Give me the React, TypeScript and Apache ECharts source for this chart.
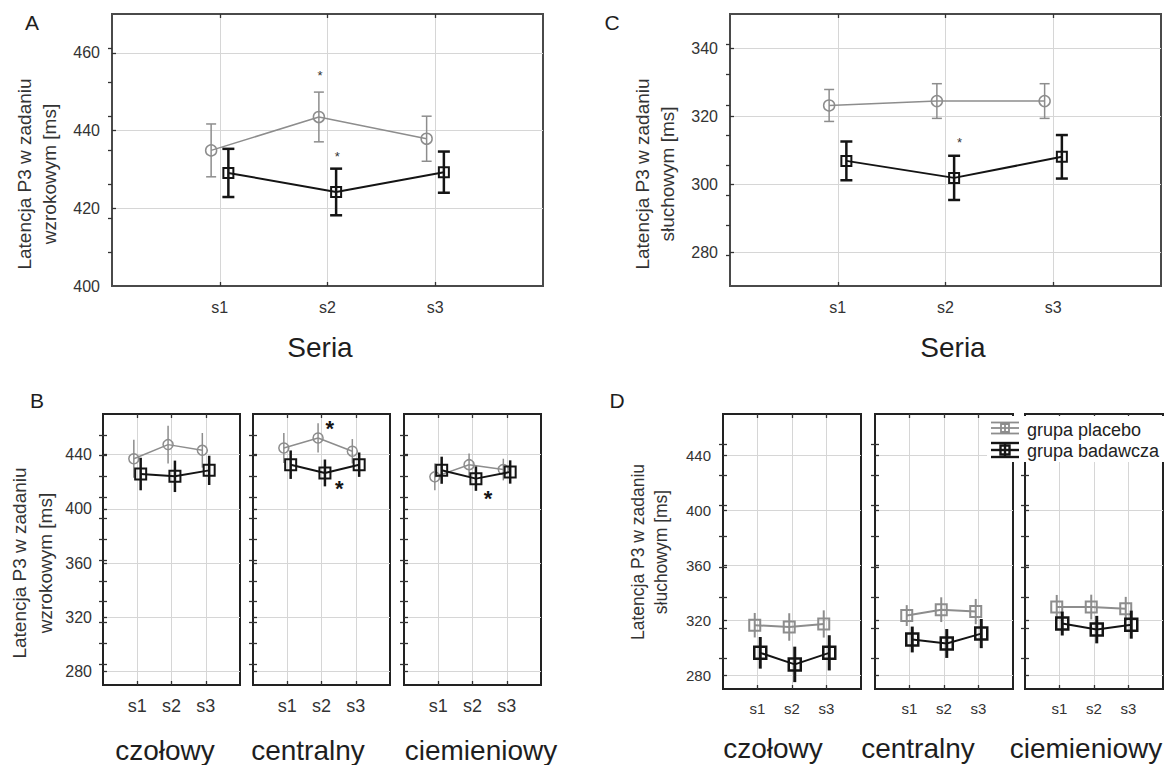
import React, { useEffect, useRef } from 'react';
import * as echarts from 'echarts';

// ---------- data ----------
const seriesLabels = ['s1', 's2', 's3'];
const groupNames = ['grupa placebo', 'grupa badawcza'];
const regionNames = ['czołowy', 'centralny', 'ciemieniowy'];

// Panel A (visual task, by series)
const aPlaceboMean = [434.9, 443.5, 437.9];
const aPlaceboErr = [6.8, 6.4, 5.8];
const aBadawczaMean = [429.1, 424.2, 429.3];
const aBadawczaErr = [6.2, 6.0, 5.3];
const aStars = [[1.93, 455.2], [2.09, 434.2]];
const aYLabels = [400, 420, 440, 460];
const aYGrid = [420, 440, 460];
const aMinorTicks = [408.75, 417.5, 426.25, 435, 443.75, 452.5, 461.25];

// Panel C (auditory task, by series)
const cPlaceboMean = [323.1, 324.4, 324.4];
const cPlaceboErr = [4.7, 5.1, 5.1];
const cBadawczaMean = [306.8, 301.8, 308.0];
const cBadawczaErr = [5.7, 6.5, 6.4];
const cStars = [[2.13, 313.1]];
const cYLabels = [280, 300, 320, 340];
const cMinorTicks = [278.9, 287.8, 296.7, 305.6, 314.4, 323.3, 332.2, 341.1];

// Panel B (visual task, by region)
const bPlaceboMean = [[437.0, 447.4, 443.2], [444.9, 452.3, 442.5], [423.6, 432.6, 429.0]];
const bPlaceboErr = [[14.0, 14.0, 12.8], [11.0, 10.8, 9.0], [9.8, 8.3, 8.0]];
const bBadawczaMean = [[425.7, 424.0, 428.4], [432.6, 426.5, 432.6], [428.5, 422.3, 427.2]];
const bBadawczaErr = [[12.0, 11.6, 10.8], [10.5, 9.9, 9.0], [10.0, 9.0, 8.6]];
const bStars = [[], [[2.24, 463.4], [2.52, 419.1]], [[2.45, 411.8]]];
const bMinorTicks = [285.4, 300.8, 316.2, 331.5, 346.9, 362.3, 377.7, 393.1, 408.5, 423.8, 439.2, 454.6];

// Panel D (auditory task, by region)
const dPlaceboMean = [[316.4, 315.1, 317.3], [323.4, 327.7, 326.3], [329.6, 329.6, 328.4]];
const dPlaceboErr = [[8.9, 10.0, 9.9], [7.6, 9.0, 9.2], [8.8, 9.0, 8.6]];
const dBadawczaMean = [[296.3, 287.9, 296.3], [306.0, 303.1, 310.3], [317.6, 313.2, 316.8]];
const dBadawczaErr = [[11.5, 12.9, 12.8], [9.4, 10.5, 10.6], [8.7, 10.0, 10.2]];
const dMinorTicks = [292.2, 314.4, 336.7, 358.9, 381.1, 403.3, 425.6, 447.8];

const bdYLabels = [280, 320, 360, 400, 440];

// ---------- styling ----------
const GREY = '#8d8d8d';
const BLACK = '#141414';
const FONT = "'Liberation Sans', Arial, Helvetica, sans-serif";
const GRIDLINE = '#d6d6d6';

type Style = {
  off: [number, number];
  pSymbol: string; pSize: number; bSize: number; pBorder: number; bBorder: number;
  pLw: number; bLw: number; pEbw: number; bEbw: number; pCap: number; bCap: number;
  starSize: number; starBold: boolean; starColor: string;
  xFont: number; xMargin: number; yFont: number; yMargin: number;
  border: number; borderColor: string;
};

const styleA: Style = {
  off: [-0.08, 0.08], pSymbol: 'circle', pSize: 11, bSize: 10, pBorder: 1.5, bBorder: 2,
  pLw: 1.5, bLw: 2, pEbw: 1.5, bEbw: 2.5, pCap: 5, bCap: 6,
  starSize: 13, starBold: false, starColor: '#333',
  xFont: 16, xMargin: 13, yFont: 16, yMargin: 12, border: 2, borderColor: '#4a4a4a',
};
const styleB: Style = {
  off: [-0.1, 0.1], pSymbol: 'circle', pSize: 10, bSize: 11, pBorder: 1.5, bBorder: 2,
  pLw: 1.5, bLw: 2, pEbw: 1.5, bEbw: 2.5, pCap: 0, bCap: 0,
  starSize: 22, starBold: true, starColor: BLACK,
  xFont: 18, xMargin: 12, yFont: 16, yMargin: 11, border: 2, borderColor: '#222',
};
const styleD: Style = {
  off: [-0.08, 0.08], pSymbol: 'rect', pSize: 11, bSize: 12, pBorder: 2, bBorder: 2.5,
  pLw: 2, bLw: 2, pEbw: 2, bEbw: 3, pCap: 0, bCap: 0,
  starSize: 22, starBold: true, starColor: BLACK,
  xFont: 15, xMargin: 12, yFont: 15, yMargin: 12, border: 2, borderColor: '#222',
};

type Rect = { left: number; top: number; width: number; height: number };
type Panel = {
  rect: Rect; yMin: number; yMax: number; yLabels: number[]; yGrid: number[]; yMinor: number[];
  minorLeft: boolean; showYLabels: boolean;
  pMean: number[]; pErr: number[]; bMean: number[]; bErr: number[]; stars: number[][];
  st: Style;
};

const panels: Panel[] = [];
panels.push({
  rect: { left: 112, top: 14, width: 431, height: 272 }, yMin: 400, yMax: 470,
  yLabels: aYLabels, yGrid: aYGrid, yMinor: aMinorTicks, minorLeft: false, showYLabels: true,
  pMean: aPlaceboMean, pErr: aPlaceboErr, bMean: aBadawczaMean, bErr: aBadawczaErr, stars: aStars, st: styleA,
});
panels.push({
  rect: { left: 730, top: 14, width: 431, height: 272 }, yMin: 270, yMax: 350,
  yLabels: cYLabels, yGrid: cYLabels, yMinor: cMinorTicks, minorLeft: false, showYLabels: true,
  pMean: cPlaceboMean, pErr: cPlaceboErr, bMean: cBadawczaMean, bErr: cBadawczaErr, stars: cStars, st: styleA,
});
const bLefts = [103, 253, 404];
const dLefts = [723, 875, 1025];
for (let r = 0; r < 3; r++) {
  panels.push({
    rect: { left: bLefts[r], top: 414, width: 137, height: 271 }, yMin: 270, yMax: 470,
    yLabels: bdYLabels, yGrid: bdYLabels, yMinor: bMinorTicks, minorLeft: true, showYLabels: r === 0,
    pMean: bPlaceboMean[r], pErr: bPlaceboErr[r], bMean: bBadawczaMean[r], bErr: bBadawczaErr[r], stars: bStars[r], st: styleB,
  });
}
for (let r = 0; r < 3; r++) {
  panels.push({
    rect: { left: dLefts[r], top: 414, width: 138, height: 275 }, yMin: 270, yMax: 470,
    yLabels: bdYLabels, yGrid: bdYLabels, yMinor: dMinorTicks, minorLeft: true, showYLabels: r === 0,
    pMean: dPlaceboMean[r], pErr: dPlaceboErr[r], bMean: dBadawczaMean[r], bErr: dBadawczaErr[r], stars: [], st: styleD,
  });
}

const errRender = (color: string, lw: number, cap: number) => (_p: any, api: any) => {
  const x = api.value(0);
  const lo = api.coord([x, api.value(1)]);
  const hi = api.coord([x, api.value(2)]);
  const style = { stroke: color, lineWidth: lw };
  const children: any[] = [
    { type: 'line', shape: { x1: lo[0], y1: lo[1], x2: hi[0], y2: hi[1] }, style },
  ];
  if (cap > 0) {
    children.push({ type: 'line', shape: { x1: lo[0] - cap, y1: lo[1], x2: lo[0] + cap, y2: lo[1] }, style });
    children.push({ type: 'line', shape: { x1: hi[0] - cap, y1: hi[1], x2: hi[0] + cap, y2: hi[1] }, style });
  }
  return { type: 'group', children };
};

const starRender = (size: number, bold: boolean, color: string) => (_p: any, api: any) => {
  const p = api.coord([api.value(0), api.value(1)]);
  return {
    type: 'text', x: p[0], y: p[1] + size * 0.27,
    style: {
      text: '*', fontSize: size, fontWeight: bold ? 'bold' : 'normal', fontFamily: FONT, fill: color,
      align: 'center', verticalAlign: 'middle', textAlign: 'center', textVerticalAlign: 'middle',
    },
  };
};

function buildOption() {
  const grid: any[] = [];
  const xAxis: any[] = [];
  const yAxis: any[] = [];
  const series: any[] = [];
  const tickStyle = { color: '#333', width: 1.3 };

  panels.forEach((pn, g) => {
    const st = pn.st;
    grid.push({
      ...pn.rect, show: true, borderColor: st.borderColor, borderWidth: st.border,
      backgroundColor: '#fff', containLabel: false,
    });
    xAxis.push({
      gridIndex: g, type: 'value', min: 0, max: 4, position: 'bottom',
      axisLine: { show: false },
      axisTick: { show: true, inside: true, length: 4, customValues: [1, 2, 3], lineStyle: tickStyle },
      axisLabel: {
        show: true, customValues: [1, 2, 3], margin: st.xMargin, fontSize: st.xFont, color: '#333', fontFamily: FONT,
        formatter: (v: number) => seriesLabels[Math.round(v) - 1] ?? '',
      },
      splitLine: { show: true, lineStyle: { color: GRIDLINE, width: 1 } },
    });
    xAxis.push({
      gridIndex: g, type: 'value', min: 0, max: 4, position: 'top',
      axisLine: { show: false },
      axisTick: { show: true, inside: true, length: 4, customValues: [1, 2, 3], lineStyle: tickStyle },
      axisLabel: { show: false }, splitLine: { show: false },
    });
    yAxis.push({
      gridIndex: g, type: 'value', min: pn.yMin, max: pn.yMax, position: 'left',
      axisLine: { show: false },
      axisTick: { show: true, inside: true, length: 4, customValues: pn.yGrid, lineStyle: tickStyle },
      axisLabel: {
        show: pn.showYLabels, customValues: pn.yLabels, margin: st.yMargin, fontSize: st.yFont,
        color: '#333', fontFamily: FONT,
      },
      splitLine: { show: true, lineStyle: { color: GRIDLINE, width: 1 } },
    });
    yAxis.push({
      gridIndex: g, type: 'value', min: pn.yMin, max: pn.yMax, position: 'right',
      axisLine: { show: false },
      axisTick: { show: true, inside: true, length: 4, customValues: pn.yMinor, lineStyle: tickStyle },
      axisLabel: { show: false }, splitLine: { show: false },
    });
    yAxis.push({
      gridIndex: g, type: 'value', min: pn.yMin, max: pn.yMax, position: 'left', offset: 0,
      axisLine: { show: false },
      axisTick: { show: pn.minorLeft, inside: true, length: 4, customValues: pn.yMinor, lineStyle: tickStyle },
      axisLabel: { show: false }, splitLine: { show: false },
    });

    const xi = 2 * g;
    const yi = 3 * g;
    const pX = (i: number) => i + 1 + st.off[0];
    const bX = (i: number) => i + 1 + st.off[1];

    series.push({
      type: 'custom', xAxisIndex: xi, yAxisIndex: yi, silent: true, z: 2,
      renderItem: errRender(GREY, st.pEbw, st.pCap),
      encode: { x: 0, y: [1, 2] },
      data: pn.pMean.map((m, i) => [pX(i), m - pn.pErr[i], m + pn.pErr[i]]),
    });
    series.push({
      type: 'line', name: groupNames[0], xAxisIndex: xi, yAxisIndex: yi, silent: true, z: 3,
      symbol: st.pSymbol, symbolSize: st.pSize,
      itemStyle: { color: 'rgba(0,0,0,0)', borderColor: GREY, borderWidth: st.pBorder },
      lineStyle: { color: GREY, width: st.pLw },
      data: pn.pMean.map((m, i) => [pX(i), m]),
    });
    series.push({
      type: 'custom', xAxisIndex: xi, yAxisIndex: yi, silent: true, z: 4,
      renderItem: errRender(BLACK, st.bEbw, st.bCap),
      encode: { x: 0, y: [1, 2] },
      data: pn.bMean.map((m, i) => [bX(i), m - pn.bErr[i], m + pn.bErr[i]]),
    });
    series.push({
      type: 'line', name: groupNames[1], xAxisIndex: xi, yAxisIndex: yi, silent: true, z: 5,
      symbol: 'rect', symbolSize: st.bSize,
      itemStyle: { color: 'rgba(0,0,0,0)', borderColor: BLACK, borderWidth: st.bBorder },
      lineStyle: { color: BLACK, width: st.bLw },
      data: pn.bMean.map((m, i) => [bX(i), m]),
    });
    if (pn.stars.length) {
      series.push({
        type: 'custom', xAxisIndex: xi, yAxisIndex: yi, silent: true, z: 6,
        renderItem: starRender(st.starSize, st.starBold, st.starColor),
        encode: { x: 0, y: 1 },
        data: pn.stars,
      });
    }
  });

  const txt = (text: string, x: number, y: number, fontSize: number, extra: any = {}) => ({
    type: 'text', x, y, silent: true, z: 50, ...(extra.el || {}),
    style: {
      text, fontSize, fontFamily: FONT, fill: extra.fill || '#1e1e1e',
      align: extra.align || 'center', textAlign: extra.align || 'center',
      verticalAlign: 'middle', textVerticalAlign: 'middle',
      lineHeight: extra.lineHeight,
    },
  });
  const rot = { el: { rotation: Math.PI / 2 } };

  const graphic: any[] = [
    txt('A', 32, 22, 21),
    txt('C', 612, 22, 21),
    txt('B', 37, 400, 21),
    txt('D', 617, 400, 21),
    txt('Latencja P3 w zadaniu\nwzrokowym [ms]', 37, 174, 19, { ...rot, lineHeight: 25, fill: '#333' }),
    txt('Latencja P3 w zadaniu\nsłuchowym [ms]', 655, 174, 19, { ...rot, lineHeight: 25, fill: '#333' }),
    txt('Latencja P3 w zadaniu\nwzrokowym [ms]', 32, 563, 19, { ...rot, lineHeight: 26, fill: '#333' }),
    txt('Latencja P3 w zadaniu\nsłuchowym [ms]', 649, 552, 17.5, { ...rot, lineHeight: 23, fill: '#333' }),
    txt('Seria', 320, 347, 28),
    txt('Seria', 953, 347, 28),
  ];
  const bNameX = [165, 308, 481];
  const dNameX = [773, 918, 1086];
  regionNames.forEach((n, i) => {
    graphic.push(txt(n, bNameX[i], 750, 28));
    graphic.push(txt(n, dNameX[i], 748, 28));
  });

  // legend (panel D)
  const legend: any[] = [
    { type: 'rect', shape: { x: 987, y: 416, width: 178, height: 46 }, style: { fill: '#fff' }, z: 60, silent: true },
  ];
  const icon = (cy: number, color: string, lw: number, half: number, sq: number) => {
    const s = { stroke: color, lineWidth: lw, fill: 'none' };
    return [
      { type: 'line', shape: { x1: 991, y1: cy - half, x2: 1019, y2: cy - half }, style: s, z: 61, silent: true },
      { type: 'line', shape: { x1: 991, y1: cy + half, x2: 1019, y2: cy + half }, style: s, z: 61, silent: true },
      { type: 'line', shape: { x1: 991, y1: cy, x2: 1019, y2: cy }, style: s, z: 61, silent: true },
      { type: 'line', shape: { x1: 1005, y1: cy - half, x2: 1005, y2: cy + half }, style: s, z: 61, silent: true },
      { type: 'rect', shape: { x: 1005 - sq / 2, y: cy - sq / 2, width: sq, height: sq }, style: s, z: 61, silent: true },
    ];
  };
  legend.push(...icon(428, GREY, 1.8, 5.5, 8));
  legend.push(...icon(450, BLACK, 2.4, 7, 9));
  legend.push({ ...txt(groupNames[0], 1027, 430, 18, { align: 'left', fill: '#222' }), z: 62 });
  legend.push({ ...txt(groupNames[1], 1027, 451, 18, { align: 'left', fill: '#222' }), z: 62 });
  graphic.push(...legend);

  return {
    animation: false,
    backgroundColor: '#fff',
    textStyle: { fontFamily: FONT },
    grid, xAxis, yAxis, series,
    graphic: { elements: graphic },
  };
}

export default function App() {
  const ref = useRef<HTMLDivElement>(null);
  useEffect(() => {
    if (!ref.current) return;
    const chart = echarts.init(ref.current, undefined, { renderer: 'svg' });
    chart.setOption(buildOption() as any);
    return () => chart.dispose();
  }, []);
  return (
    <div
      ref={ref}
      style={{ position: 'absolute', left: 0, top: 0, width: 1175, height: 765, background: '#fff' }}
    />
  );
}
